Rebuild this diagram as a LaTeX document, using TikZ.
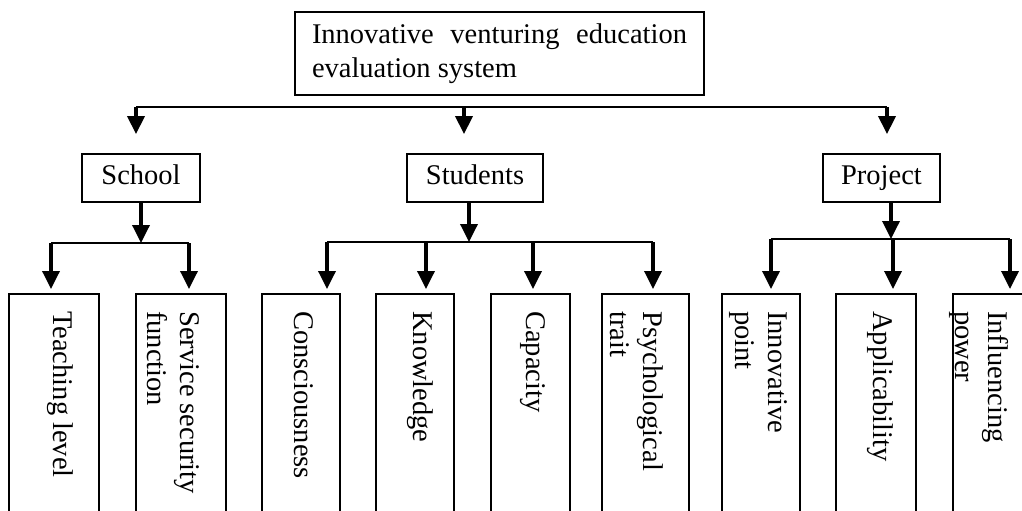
\documentclass[tikz,border=0pt]{standalone}
\usepackage{fontspec}
\setmainfont{Liberation Serif}
\usetikzlibrary{arrows.meta}
\hyphenpenalty=10000
\exhyphenpenalty=10000
\tikzset{
  bigfont/.style={font=\fontsize{28.5}{34}\selectfont},
  topbox/.style={draw, line width=1.8pt, bigfont, text width=375pt, inner xsep=17pt, inner ysep=0pt, minimum height=83pt, align=justify},
  midbox/.style={draw, line width=1.8pt, bigfont, minimum height=48pt, text height=19pt, text depth=6pt, inner sep=0pt},
  leafbox/.style={draw, line width=1.8pt, minimum height=240pt, anchor=north, inner sep=0pt},
  leaflabel/.style={font=\fontsize{28.5}{33}\selectfont, inner sep=0pt, anchor=base west, rotate=-90, align=left},
  bus/.style={line width=1.8pt},
  arr/.style={line width=3.5pt, -{Triangle[width=17pt,length=18pt]}},
}
\begin{document}
\begin{tikzpicture}[x=1pt,y=-1pt]
\clip (0,0) rectangle (1022,511);
\fill[white] (0,0) rectangle (1022,511);

% root
\node[topbox] (root) at (499.5,53.5) {Innovative venturing education evaluation system};

% second level
\node[midbox, minimum width=118pt] (school) at (141,178) {School};
\node[midbox, minimum width=136pt] (students) at (475,178) {Students};
\node[midbox, minimum width=117pt] (project) at (881.5,178) {Project};

% top bus
\coordinate (rb1) at (136,107);
\coordinate (rb2) at (464,107);
\coordinate (rb3) at (887,107);
\draw[bus] (rb1) -- (rb3);
\draw[arr, shorten >=19pt] (rb1) -- (rb1 |- school.north);
\draw[arr, shorten >=19pt] (rb2) -- (rb2 |- students.north);
\draw[arr, shorten >=19pt] (rb3) -- (rb3 |- project.north);

% leaves
\node[leafbox, minimum width=90pt] (t1) at (54,293) {};
\node[leafbox, minimum width=90pt] (t2) at (181,293) {};
\node[leafbox, minimum width=78pt] (t3) at (301,293) {};
\node[leafbox, minimum width=78pt] (t4) at (415,293) {};
\node[leafbox, minimum width=79pt] (t5) at (530.5,293) {};
\node[leafbox, minimum width=87pt] (t6) at (645.5,293) {};
\node[leafbox, minimum width=78pt] (t7) at (761,293) {};
\node[leafbox, minimum width=80pt] (t8) at (876,293) {};
\node[leafbox, minimum width=87pt] (t9) at (996.5,293) {};

% labels (base anchor of a two-line label is its last line)
\node[leaflabel] (l1) at (53,311) {Teaching level};
\node[leaflabel] (l2) at (147,311) {Service security\\function};
\node[leaflabel] (l3) at (294,311) {Consciousness};
\node[leaflabel] (l4) at (413,311) {Knowledge};
\node[leaflabel] (l5) at (526,311) {Capacity};
\node[leaflabel] (l6) at (610,311) {Psychological\\trait};
\node[leaflabel] (l7) at (735,311) {Innovative\\point};
\node[leaflabel] (l8) at (873,311) {Applicability};
\node[leaflabel] (l9) at (955,311) {Influencing\\power};

% school branch
\coordinate (sb1) at (51,243);
\coordinate (sb2) at (189,243);
\draw[arr] (school.south) -- (school.south |- sb1);
\draw[bus] (sb1) -- (sb2);
\draw[arr, shorten >=4pt] (sb1) -- (sb1 |- t1.north);
\draw[arr, shorten >=4pt] (sb2) -- (sb2 |- t2.north);

% students branch
\coordinate (ub1) at (327,242);
\coordinate (ub2) at (426,242);
\coordinate (ub3) at (533,242);
\coordinate (ub4) at (653,242);
\draw[arr] ([xshift=-6pt]students.south) -- ([xshift=-6pt]students.south |- ub1);
\draw[bus] (ub1) -- (ub4);
\draw[arr, shorten >=4pt] (ub1) -- (ub1 |- t3.north);
\draw[arr, shorten >=4pt] (ub2) -- (ub2 |- t4.north);
\draw[arr, shorten >=4pt] (ub3) -- (ub3 |- t5.north);
\draw[arr, shorten >=4pt] (ub4) -- (ub4 |- t6.north);

% project branch
\coordinate (pb1) at (771,239);
\coordinate (pb2) at (893,239);
\coordinate (pb3) at (1010,239);
\draw[arr] ([xshift=9.5pt]project.south) -- ([xshift=9.5pt]project.south |- pb1);
\draw[bus] (pb1) -- (pb3);
\draw[arr, shorten >=4pt] (pb1) -- (pb1 |- t7.north);
\draw[arr, shorten >=4pt] (pb2) -- (pb2 |- t8.north);
\draw[arr, shorten >=4pt] (pb3) -- (pb3 |- t9.north);
\end{tikzpicture}
\end{document}
